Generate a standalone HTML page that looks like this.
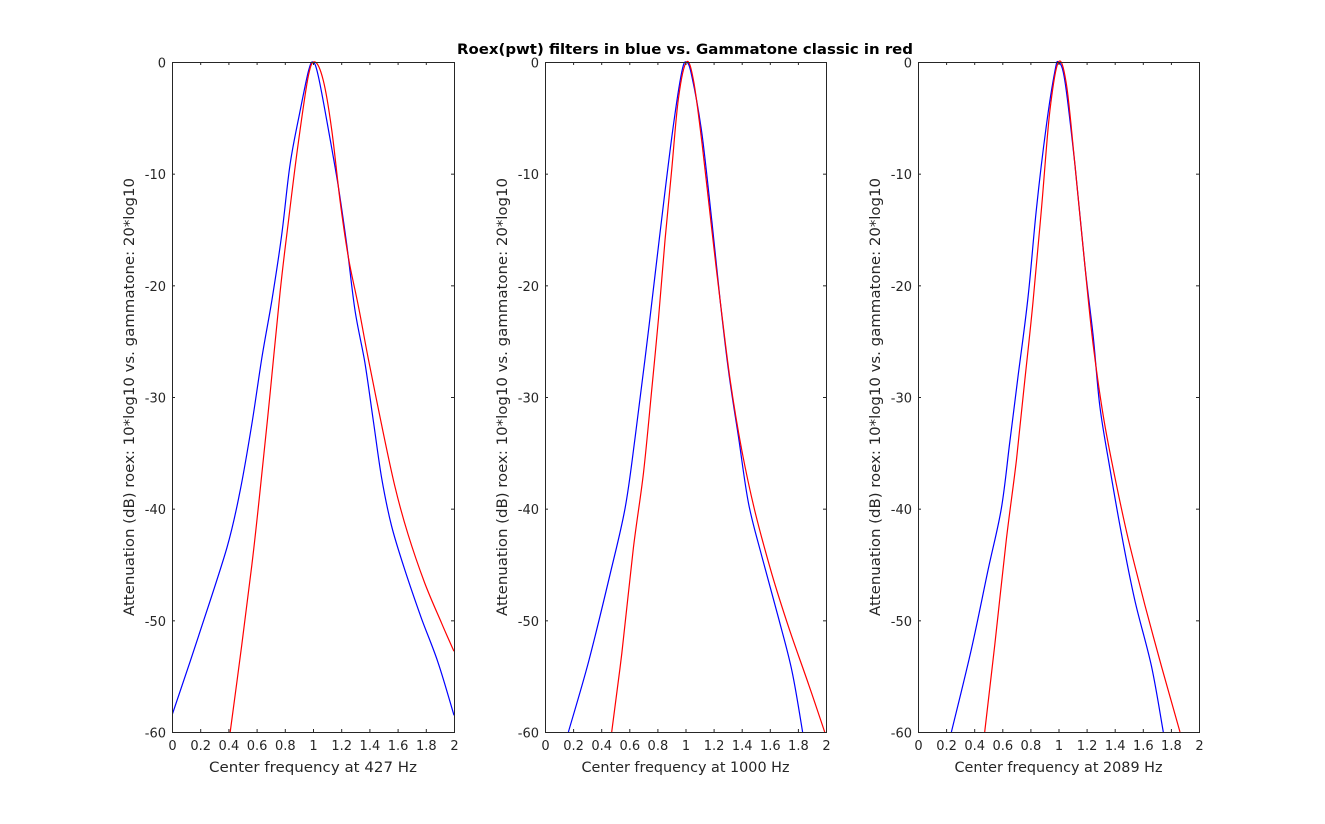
<!DOCTYPE html>
<html><head><meta charset="utf-8"><style>
body{margin:0;background:#fff;}
svg{display:block;font-family:"DejaVu Sans","Liberation Sans",sans-serif;}
</style></head><body>
<svg id="s" width="1325" height="824" xmlns="http://www.w3.org/2000/svg">
<rect width="1325" height="824" fill="#fff"/>
<text x="685" y="54" text-anchor="middle" font-size="14.5" font-weight="bold" textLength="456" lengthAdjust="spacingAndGlyphs">Roex(pwt) filters in blue vs. Gammatone classic in red</text>
</svg>
<script>
var s=document.getElementById('s');var NS='http://www.w3.org/2000/svg';
function el(t,a,txt){var e=document.createElementNS(NS,t);for(var k in a)e.setAttribute(k,a[k]);if(txt!==undefined)e.textContent=txt;s.appendChild(e);return e;}
var panels=[
{x0:172,x1:454,lab:'Center frequency at 427 Hz',zw:424,
b:[[0,1500],[80,1320],[165,1120],[205,990],[240,840],[270,690],[300,560],[330,410],[355,250],[385,130],[410,40],[424,18],[440,50],[470,170],[500,300],[525,430],[550,580],[580,700],[605,830],[630,960],[660,1070],[700,1170],[750,1280],[800,1380],[848,1500]],
r:[[175,1538],[210,1340],[240,1160],[265,990],[295,770],[325,540],[350,380],[380,200],[410,50],[430,18],[455,60],[480,170],[505,330],[530,460],[560,570],[590,690],[630,840],[670,980],[710,1090],[760,1200],[810,1290],[848,1355]]},
{x0:545,x1:826,lab:'Center frequency at 1000 Hz',zw:421,
b:[[70,1538],[130,1380],[195,1180],[240,1030],[270,870],[300,690],[330,500],[355,340],[385,160],[410,40],[424,18],[440,50],[470,180],[500,380],[525,560],[550,720],[580,870],[610,1020],[650,1140],[700,1280],[740,1400],[772,1538]],
r:[[200,1538],[230,1360],[265,1120],[295,950],[320,760],[340,600],[360,420],[380,260],[400,100],[424,18],[445,60],[470,200],[500,400],[525,560],[555,740],[590,900],[630,1040],[680,1180],[730,1300],[790,1430],[838,1538]]},
{x0:918,x1:1199,lab:'Center frequency at 2089 Hz',zw:421,
b:[[100,1538],[160,1350],[210,1170],[250,1030],[275,880],[300,730],[330,550],[355,350],[385,160],[410,40],[421,18],[440,60],[470,250],[500,480],[525,640],[545,800],[575,940],[610,1090],[650,1240],[700,1390],[735,1538]],
r:[[200,1538],[230,1340],[265,1100],[295,920],[320,740],[345,560],[370,350],[395,130],[421,18],[445,70],[470,250],[500,480],[525,660],[555,820],[590,960],[630,1100],[680,1250],[730,1390],[785,1538]]}
];
var y0=62,y1=732;
function smooth(P){
 var d='M'+P[0][0].toFixed(1)+','+P[0][1].toFixed(1);
 for(var i=0;i<P.length-1;i++){
  var p0=P[Math.max(i-1,0)],p1=P[i],p2=P[i+1],p3=P[Math.min(i+2,P.length-1)];
  var c1x=p1[0]+(p2[0]-p0[0])/6,c1y=p1[1]+(p2[1]-p0[1])/6;
  var c2x=p2[0]-(p3[0]-p1[0])/6,c2y=p2[1]-(p3[1]-p1[1])/6;
  d+=' C'+c1x.toFixed(1)+','+c1y.toFixed(1)+' '+c2x.toFixed(1)+','+c2y.toFixed(1)+' '+p2[0].toFixed(1)+','+p2[1].toFixed(1);
 }
 return d;}
panels.forEach(function(p){
 var w=p.x1-p.x0;
 function pts(a){return a.map(function(q){return [p.x0+q[0]/(2*p.zw)*w, y0+(q[1]-18)*(y1-y0)/1520];});}
 var cp='c'+p.x0;
 var cl=el('clipPath',{id:cp});
 var r=document.createElementNS(NS,'rect');r.setAttribute('x',p.x0);r.setAttribute('y',y0-3);r.setAttribute('width',w+1);r.setAttribute('height',y1-y0+3);cl.appendChild(r);
 el('path',{d:smooth(pts(p.b)),fill:'none',stroke:'#0000ff','stroke-width':1.2,'clip-path':'url(#'+cp+')'});
 el('path',{d:smooth(pts(p.r)),fill:'none',stroke:'#ff0000','stroke-width':1.2,'clip-path':'url(#'+cp+')'});
 el('rect',{x:p.x0+0.5,y:y0+0.5,width:w,height:y1-y0,fill:'none',stroke:'#262626','stroke-width':1});
 for(var i=0;i<=10;i++){var x=p.x0+0.5+w*i/10;
  el('line',{x1:x,y1:y1,x2:x,y2:y1-3,stroke:'#262626'});el('line',{x1:x,y1:y0,x2:x,y2:y0+3,stroke:'#262626'});
  var v=(i*0.2);var t=(i==0)?'0':(i==5?'1':(i==10?'2':v.toFixed(1)));
  el('text',{x:x,y:y1+18,'text-anchor':'middle','font-size':13,fill:'#262626'},t);}
 for(var j=0;j<=6;j++){var y=y0+0.5+(y1-y0)*j/6;
  el('line',{x1:p.x0,y1:y,x2:p.x0+3,y2:y,stroke:'#262626'});el('line',{x1:p.x1,y1:y,x2:p.x1-3,y2:y,stroke:'#262626'});
  el('text',{x:p.x0-6,y:y+5,'text-anchor':'end','font-size':13,fill:'#262626'},j==0?'0':'-'+(j*10));}
 el('text',{x:(p.x0+p.x1)/2,y:772,'text-anchor':'middle','font-size':14.5,fill:'#262626',textLength:208,lengthAdjust:'spacingAndGlyphs'},p.lab);
 var lx=p.x0-38,ly=(y0+y1)/2;
 el('text',{x:lx,y:ly,'text-anchor':'middle','font-size':14,fill:'#262626',textLength:438,lengthAdjust:'spacingAndGlyphs',transform:'rotate(-90 '+lx+' '+ly+')'},'Attenuation (dB) roex: 10*log10 vs. gammatone: 20*log10');
});
</script>
</body></html>
